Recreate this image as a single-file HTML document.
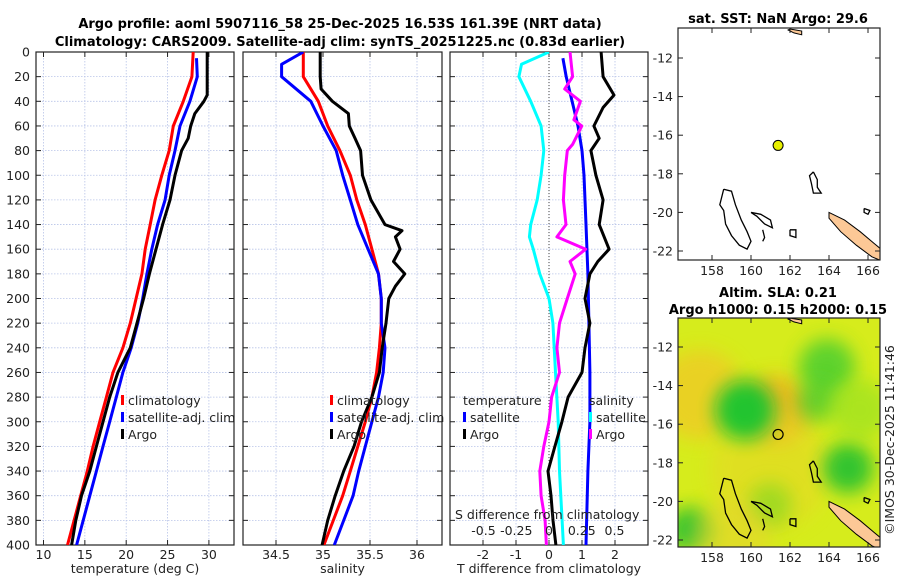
<!DOCTYPE html>
<html><head><meta charset="utf-8"><style>
body{margin:0;background:#fff;}
svg{display:block;font-family:"DejaVu Sans","Liberation Sans",sans-serif;}
.t{font-size:12.5px;fill:#222;}
.b{font-weight:bold;font-size:13px;fill:#000;}
</style></head><body>
<svg id="c" width="900" height="580" xmlns="http://www.w3.org/2000/svg">
<defs>
<clipPath id="cp1"><rect x="36" y="52" width="198" height="493"/></clipPath>
<clipPath id="cp2"><rect x="243" y="52" width="199" height="493"/></clipPath>
<clipPath id="cp3"><rect x="450" y="52" width="198" height="493"/></clipPath>
<clipPath id="m1"><rect x="678" y="28" width="202" height="232"/></clipPath>
<clipPath id="m2"><rect x="678" y="318" width="202" height="229"/></clipPath>
</defs>
<text class="b" x="340" y="28" text-anchor="middle">Argo profile: aoml 5907116_58 25-Dec-2025 16.53S 161.39E (NRT data)</text>
<text class="b" x="340" y="46" text-anchor="middle">Climatology: CARS2009. Satellite-adj clim: synTS_20251225.nc (0.83d earlier)</text>
<text class="b" x="778" y="23" text-anchor="middle">sat. SST: NaN Argo: 29.6</text>
<text class="b" x="778" y="297" text-anchor="middle">Altim. SLA: 0.21</text>
<text class="b" x="778" y="314" text-anchor="middle">Argo h1000: 0.15 h2000: 0.15</text>
<text class="t" transform="translate(894,440) rotate(-90)" text-anchor="middle">©IMOS 30-Dec-2025 11:41:46</text>
<g id="g"></g>
</svg>
<script>
// ---- data ----
const depthTc=[0,20,40,60,80,100,120,140,160,180,200,220,240,260,280,300,320,340,360,380,400];
const tempClim=[28.1,27.95,26.9,25.7,25.2,24.3,23.5,22.9,22.3,21.9,21.2,20.5,19.6,18.4,17.6,16.8,16.0,15.3,14.5,13.7,12.9];
const depthTs=[5,20,40,60,80,100,120,140,160,180,200,220,240,260,280,300,320,340,360,380,400];
const tempSat=[28.5,28.6,27.7,26.5,25.9,25.2,24.7,23.8,23.1,22.5,22.0,21.4,20.6,19.6,18.8,18.0,17.2,16.4,15.6,14.8,14.0];
const depthTa=[0,20,35,40,50,60,70,80,100,120,140,160,180,200,220,240,260,280,300,320,340,360,380,400];
const tempArgo=[29.8,29.8,29.8,29.4,28.3,27.8,27.5,26.7,25.9,25.3,24.4,23.6,22.8,22.1,21.3,20.5,19.0,18.0,17.2,16.4,15.6,14.6,13.9,13.4];
const depthS=[0,20,40,60,80,100,120,140,160,180,200,220,240,260,280,300,320,340,360,380,400];
const salClim=[34.79,34.79,34.95,35.05,35.18,35.29,35.36,35.45,35.52,35.59,35.62,35.62,35.6,35.57,35.52,35.45,35.37,35.29,35.21,35.11,35.01];
const depthSs=[0,10,20,40,60,80,100,120,140,160,180,200,220,240,260,280,300,320,340,360,380,400];
const salSat=[34.79,34.56,34.56,34.87,35.0,35.14,35.21,35.29,35.37,35.48,35.59,35.62,35.62,35.66,35.64,35.59,35.52,35.45,35.38,35.32,35.22,35.12];
const depthSa=[0,20,30,40,50,60,70,80,100,120,140,145,150,160,170,180,190,200,220,240,260,280,300,320,340,360,380,400];
const salArgo=[34.97,34.97,34.98,35.1,35.27,35.28,35.34,35.4,35.42,35.51,35.66,35.84,35.77,35.82,35.75,35.87,35.77,35.7,35.67,35.63,35.6,35.52,35.41,35.33,35.22,35.13,35.05,34.99];
const depthD=[0,10,20,40,60,80,100,120,140,150,160,180,200,220,260,300,340,400];
const sDiffSat=[0,-0.21,-0.23,-0.14,-0.06,-0.04,-0.06,-0.09,-0.14,-0.15,-0.12,-0.07,0,0.03,0.05,0.07,0.08,0.11];
const depthTd=[5,20,40,60,80,100,140,180,220,260,300,340,400];
const tDiffSat=[0.42,0.52,0.7,0.88,1.0,1.06,1.12,1.18,1.21,1.24,1.24,1.18,1.12];
const depthTda=[0,20,35,45,60,70,80,100,120,140,160,170,180,200,220,240,260,280,300,320,340,360,380,400];
const tDiffArgo=[1.58,1.64,1.97,1.64,1.36,1.52,1.27,1.42,1.64,1.52,1.82,1.48,1.24,1.09,1.24,1.09,1.0,0.58,0.39,0.18,-0.03,0.06,0.12,0.21];
const depthSda=[0,20,30,40,55,60,75,80,100,120,140,150,160,170,180,200,220,240,260,280,300,320,340,360,380,400];
const sDiffArgo=[0.16,0.18,0.12,0.24,0.19,0.25,0.18,0.14,0.12,0.11,0.13,0.06,0.28,0.16,0.2,0.14,0.08,0.06,0.08,0.02,0.0,-0.04,-0.07,-0.06,-0.03,-0.02];
const depthTicks=[0,20,40,60,80,100,120,140,160,180,200,220,240,260,280,300,320,340,360,380,400];
const tempTicks=[10,15,20,25,30];
const salTicks=[34.5,35,35.5,36];
const tdTicks=[-2,-1,0,1,2];
const sdTicks=["-0.5","-0.25","0","0.25","0.5"];
const sdTickVals=[-0.5,-0.25,0,0.25,0.5];
const latTicks=[-12,-14,-16,-18,-20,-22];
const lonTicks=[158,160,162,164,166];
const argoLon=161.39, argoLat=-16.53;

// ---- helpers ----
const NS="http://www.w3.org/2000/svg";
const G=document.getElementById('g');
function mk(tag,at,txt,par){const e=document.createElementNS(NS,tag);for(const k in at)e.setAttribute(k,at[k]);if(txt!==undefined)e.textContent=txt;(par||G).appendChild(e);return e;}
const Y=d=>52+d*493/400;
const XT=v=>43.5+(v-10)*8.27;
const XS=v=>323+(v-35)*94;
const XTD=v=>549+v*33;
const XSD=v=>549+v*131;
const LX=lon=>712+(lon-158)*19.5;
const LY1=lat=>58+(-12-lat)*19.3;
const LY2=lat=>347+(-12-lat)*19.3;

function panel(x0,x1,name,xticks,xf,labels,xlabel,clip){
  const p=mk('g',{});
  
  
  depthTicks.forEach(d=>{const l=mk('line',{x1:x0,x2:x1,y1:Y(d),y2:Y(d),stroke:'#b8c4e8','stroke-width':0.8,'stroke-dasharray':'1.5,1.5'},undefined,p);
    
    mk('line',{x1:x0,x2:x0+5,y1:Y(d),y2:Y(d),stroke:'#222'},undefined,p);mk('line',{x1:x1-5,x2:x1,y1:Y(d),y2:Y(d),stroke:'#222'},undefined,p);});
  xticks.forEach((v,i)=>{const x=xf(v);
    const l=mk('line',{x1:x,x2:x,y1:52,y2:545,stroke:'#b8c4e8','stroke-width':0.8,'stroke-dasharray':'1.5,1.5'},undefined,p);
    
    mk('line',{x1:x,x2:x,y1:545,y2:540,stroke:'#222'},undefined,p);mk('line',{x1:x,x2:x,y1:52,y2:57,stroke:'#222'},undefined,p);
    const t=mk('text',{x:x,y:559,'text-anchor':'middle',class:'t'},labels[i],p);
    });
  const xl=mk('text',{x:(x0+x1)/2,y:573,'text-anchor':'middle',class:'t'},xlabel,p);
  
  const fr=mk('rect',{x:x0,y:52,width:x1-x0,height:493,fill:'none',stroke:'#222','stroke-width':1.2},undefined,p);
  
  const lg=mk('g',{'clip-path':'url(#'+clip+')'},undefined,p);
  return lg;
}
function series(par,ds,vs,xf,col,name){
  const pts=ds.map((d,i)=>xf(vs[i]).toFixed(1)+','+Y(d).toFixed(1)).join(' ');
  const l=mk('polyline',{points:pts,fill:'none',stroke:col,'stroke-width':3,'stroke-linejoin':'round'},undefined,par);
  
}
depthTicks.forEach(d=>{const t=mk('text',{x:30,y:Y(d)+4.5,'text-anchor':'end',class:'t'},String(d));
  });

const p1=panel(36,234,'temperature-panel',tempTicks,XT,tempTicks.map(String),'temperature (deg C)','cp1');
series(p1,depthTc,tempClim,XT,'#ff0000','temp-climatology-line');
series(p1,depthTs,tempSat,XT,'#0000ff','temp-satellite-line');
series(p1,depthTa,tempArgo,XT,'#000','temp-argo-line');
const p2=panel(243,442,'salinity-panel',salTicks,XS,salTicks.map(String),'salinity','cp2');
series(p2,depthS,salClim,XS,'#ff0000','sal-climatology-line');
series(p2,depthSs,salSat,XS,'#0000ff','sal-satellite-line');
series(p2,depthSa,salArgo,XS,'#000','sal-argo-line');
const p3=panel(450,648,'difference-panel',tdTicks,XTD,tdTicks.map(String),'T difference from climatology','cp3');
const z=mk('line',{x1:549,x2:549,y1:52,y2:545,stroke:'#444','stroke-dasharray':'1,2'},undefined,p3);

series(p3,depthD,sDiffSat,XSD,'#00ffff','sal-diff-satellite-line');
series(p3,depthTd,tDiffSat,XTD,'#0000ff','temp-diff-satellite-line');
series(p3,depthSda,sDiffArgo,XSD,'#ff00ff','sal-diff-argo-line');
series(p3,depthTda,tDiffArgo,XTD,'#000','temp-diff-argo-line');
const sdt=mk('text',{x:455,y:519,class:'t'},'S difference from climatology');

sdTickVals.forEach((v,i)=>{const t=mk('text',{x:XSD(v),y:535,'text-anchor':'middle',class:'t'},sdTicks[i]);
  });

function legend(x,y,items,name){
  const g=mk('g',{});
  items.forEach((it,i)=>{const yy=y+i*17;
    if(it[1])mk('rect',{x:x,y:yy-10,width:3,height:10,fill:it[1]},undefined,g);
    const t=mk('text',{x:x+(it[1]?7:0),y:yy,class:'t'},it[0],g);
    });
}
legend(121,405,[['climatology','#ff0000'],['satellite-adj. clim','#0000ff'],['Argo','#000']],'temperature-legend');
legend(330,405,[['climatology','#ff0000'],['satellite-adj. clim','#0000ff'],['Argo','#000']],'salinity-legend');
legend(463,405,[['temperature',null],['satellite','#0000ff'],['Argo','#000']],'temp-diff-legend');
legend(589,405,[['salinity',null],['satellite','#00ffff'],['Argo','#ff00ff']],'sal-diff-legend');

// ---- maps ----
const islands=[
 [[158.6,-18.8],[159.0,-18.9],[159.2,-19.6],[159.5,-20.4],[159.8,-21.0],[160.0,-21.5],[159.8,-21.9],[159.4,-21.7],[159.0,-21.2],[158.7,-20.6],[158.6,-19.9],[158.4,-19.6],[158.6,-18.8]],
 [[160.0,-20.0],[160.5,-20.1],[161.0,-20.4],[161.1,-20.8],[160.7,-20.6],[160.3,-20.2],[160.0,-20.0]],
 [[162.0,-20.9],[162.3,-20.9],[162.3,-21.3],[162.0,-21.2],[162.0,-20.9]],
 [[160.6,-20.9],[160.7,-21.3],[160.6,-21.5]],
 [[163.2,-17.9],[163.4,-18.3],[163.4,-18.7],[163.6,-19.0],[163.2,-19.0],[163.1,-18.5],[163.0,-18.1],[163.2,-17.9]],
 [[165.8,-19.8],[166.1,-19.9],[166.0,-20.1],[165.8,-20.0],[165.8,-19.8]]
];
const nc=[[164.0,-20.0],[164.8,-20.4],[165.6,-21.0],[166.3,-21.6],[166.9,-22.1],[166.9,-22.6],[166.2,-22.3],[165.4,-21.7],[164.6,-21.0],[164.0,-20.3]];
const topIsland=[[162.0,-10.5],[162.6,-10.6],[162.6,-10.8],[162.2,-10.7],[161.9,-10.55]];
function drawMap(LY,clip,name,bg){
  const g=mk('g',{'clip-path':'url(#'+clip+')'});
  
  const top=clip==='m1'?28:318, h=clip==='m1'?232:229;
  if(bg){
    const r=mk('rect',{x:678,y:top,width:202,height:h,fill:'#d6ec1c'},undefined,g);
    
    [[700,395,45,'#f2c628',0.7],[775,410,35,'#f0b020',0.8],[770,470,60,'#e8d428',0.5],[745,410,30,'#10c430',0.9],[827,367,28,'#40cc30',0.8],[817,402,20,'#40c830',0.7],[848,468,25,'#20c030',0.9],[690,530,22,'#20c030',0.9],[770,505,22,'#88d820',0.7],[860,410,30,'#90e020',0.6],[730,540,40,'#e8d030',0.5]].forEach(b=>{
      const c=mk('circle',{cx:b[0],cy:b[1],r:b[2],fill:b[3],opacity:b[4],filter:'url(#bl)'},undefined,g);
      });
  }
  const pt=a=>a.map(p=>LX(p[0]).toFixed(1)+','+LY(p[1]).toFixed(1)).join(' ');
  islands.forEach(a=>{const l=mk('polyline',{points:pt(a),fill:'none',stroke:'#000','stroke-width':1.3},undefined,g);
    });
  const n=mk('polygon',{points:pt(nc),fill:'#fcc896',stroke:'#000','stroke-width':1},undefined,g);
  
  const ti=mk('polygon',{points:pt(topIsland),fill:'#fcc896',stroke:'#000','stroke-width':1},undefined,g);
  
  const fr=mk('rect',{x:678,y:top,width:202,height:h,fill:'none',stroke:'#222','stroke-width':1.2});
  
  latTicks.forEach(l=>{const y=LY(l);if(y<top||y>top+h)return;
    mk('line',{x1:678,x2:683,y1:y,y2:y,stroke:'#222'});mk('line',{x1:875,x2:880,y1:y,y2:y,stroke:'#222'});
    const t=mk('text',{x:673,y:y+4.5,'text-anchor':'end',class:'t'},String(l));
    });
  lonTicks.forEach(l=>{const x=LX(l);
    mk('line',{x1:x,x2:x,y1:top+h,y2:top+h-5,stroke:'#222'});mk('line',{x1:x,x2:x,y1:top,y2:top+5,stroke:'#222'});
    const t=mk('text',{x:x,y:top+h+15,'text-anchor':'middle',class:'t'},String(l));
    });
  return g;
}
const defs=document.querySelector('defs');
const f=mk('filter',{id:'bl',x:'-50%',y:'-50%',width:'200%',height:'200%'},undefined,defs);
mk('feGaussianBlur',{stdDeviation:9},undefined,f);
drawMap(LY1,'m1','sst-map',false);
const d1=mk('circle',{cx:LX(argoLon),cy:LY1(argoLat),r:5,fill:'#e8f000',stroke:'#000','stroke-width':1});

drawMap(LY2,'m2','sla-map',true);
const d2=mk('circle',{cx:LX(argoLon),cy:LY2(argoLat),r:5,fill:'none',stroke:'#000','stroke-width':1.2});

</script>
</body></html>
